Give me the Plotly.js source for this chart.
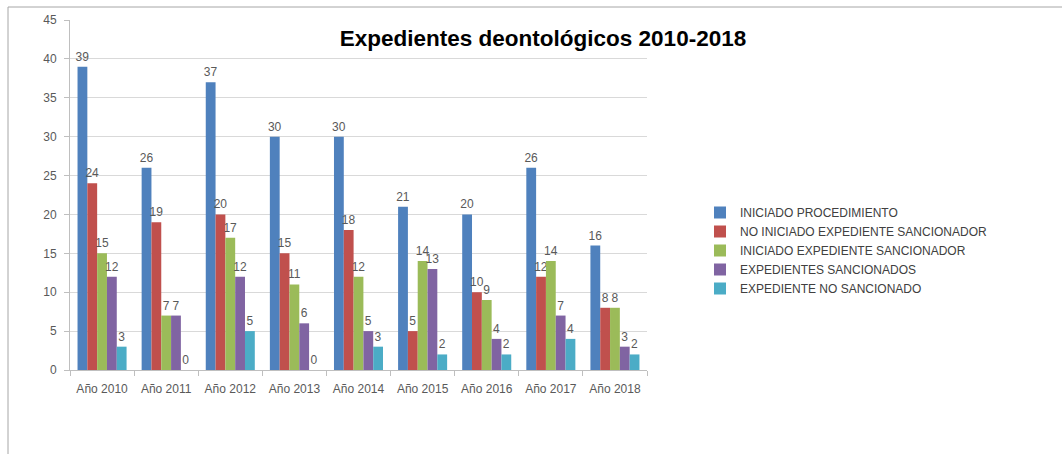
<!DOCTYPE html>
<html>
<head>
<meta charset="utf-8">
<script src="https://cdn.plot.ly/plotly-3.0.1.min.js"></script>
<style>
html,body{margin:0;padding:0;background:#fff;}
#chart{width:1062px;height:454px;}
</style>
</head>
<body>
<div id="chart"></div>
<script>
const categories = ["Año 2010","Año 2011","Año 2012","Año 2013","Año 2014","Año 2015","Año 2016","Año 2017","Año 2018"];
const seriesNames = ["INICIADO PROCEDIMIENTO","NO INICIADO EXPEDIENTE SANCIONADOR","INICIADO EXPEDIENTE SANCIONADOR","EXPEDIENTES SANCIONADOS","EXPEDIENTE NO SANCIONADO"];
const iniciadoProcedimiento = [39,26,37,30,30,21,20,26,16];
const noIniciadoExpediente = [24,19,20,15,18,5,10,12,8];
const iniciadoExpediente = [15,7,17,11,12,14,9,14,8];
const expedientesSancionados = [12,7,12,6,5,13,4,7,3];
const expedienteNoSancionado = [3,0,5,0,3,2,2,4,2];
const yTicks = [0,5,10,15,20,25,30,35,40,45];

const allSeries = [iniciadoProcedimiento,noIniciadoExpediente,iniciadoExpediente,expedientesSancionados,expedienteNoSancionado];
const colors = ["#4F81BD","#C0504D","#9BBB59","#8064A2","#4BACC6"];

const traces = allSeries.map((vals,i)=>({
  type:'bar',
  name:seriesNames[i],
  x:categories,
  y:vals,
  text:vals.map(String),
  textposition:'outside',
  constraintext:'none',
  cliponaxis:false,
  textfont:{family:'Liberation Sans, Arial, sans-serif',size:12,color:'#595959'},
  marker:{color:colors[i],line:{width:0}},
  hoverinfo:'none'
}));

const layout = {
  width:1062,height:454,
  margin:{l:70,r:415,t:20,b:84},
  paper_bgcolor:'#fff',plot_bgcolor:'#fff',
  barmode:'group',bargap:0.235,bargroupgap:0,
  showlegend:true,
  title:{text:'<b>Expedientes deontológicos 2010-2018</b>',
    font:{family:'Liberation Sans, Arial, sans-serif',size:22.5,color:'#000'},
    x:543/1062,xanchor:'center',y:1-38/454,yanchor:'middle'},
  font:{family:'Liberation Sans, Arial, sans-serif',color:'#595959'},
  xaxis:{
    tickfont:{size:12,color:'#595959'},
    showline:true,linecolor:'#bfbfbf',linewidth:1,
    ticks:'outside',ticklen:5,tickcolor:'#bfbfbf',tickson:'boundaries',
    ticklabelstandoff:8,
    showgrid:false,zeroline:false
  },
  yaxis:{
    range:[0,45],tickvals:yTicks,
    tickfont:{size:12,color:'#595959'},
    showline:true,linecolor:'#bfbfbf',linewidth:1,
    ticks:'outside',ticklen:5,tickcolor:'#bfbfbf',
    ticklabelstandoff:5,
    gridcolor:'#d9d9d9',gridwidth:1,zeroline:false
  },
  legend:{
    x:(700-70)/577,y:(370-198)/350,xanchor:'left',yanchor:'top',
    font:{size:12,color:'#404040'},
    tracegroupgap:0,itemwidth:30,traceorder:'normal'
  },
  shapes:[
    {type:'line',xref:'paper',yref:'paper',x0:(8-70)/577,x1:(1062-70)/577,y0:(370-7)/350,y1:(370-7)/350,line:{color:'#a6a6a6',width:1}},
    {type:'line',xref:'paper',yref:'paper',x0:(8-70)/577,x1:(8-70)/577,y0:(370-7)/350,y1:(370-454)/350,line:{color:'#a6a6a6',width:1}}
  ]
};

Plotly.newPlot('chart',traces,layout,{displayModeBar:false,staticPlot:true});
</script>
</body>
</html>
